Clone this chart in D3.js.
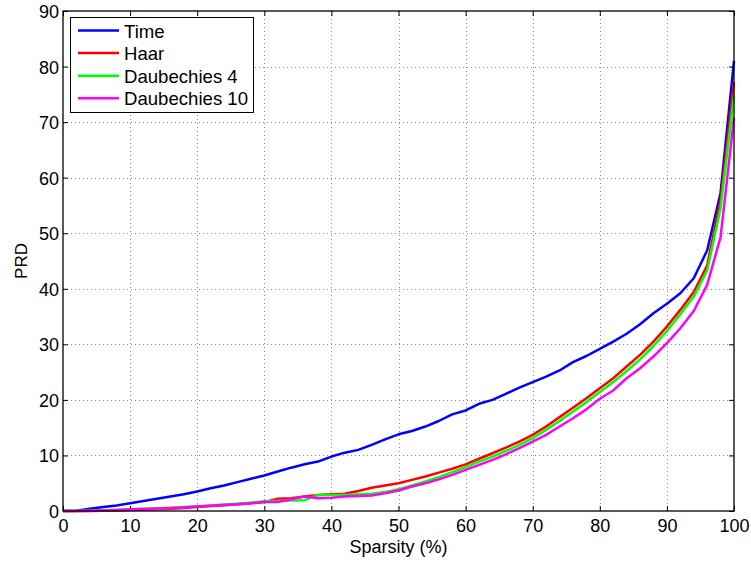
<!DOCTYPE html>
<html><head><meta charset="utf-8">
<script src="https://cdn.jsdelivr.net/npm/d3@7"></script>
<style>body{margin:0;background:#fff}text{font-family:"Liberation Sans",Arial,sans-serif}</style>
</head><body><svg id="c" width="751" height="561"></svg>
<script>
const sparsity = d3.range(0, 101, 2);
const timeVals = [0,0.05,0.4,0.7,1.0,1.4,1.8,2.2,2.6,3.0,3.5,4.1,4.6,5.2,5.8,6.4,7.1,7.8,8.4,8.9,9.8,10.5,11.0,11.9,12.9,13.8,14.4,15.2,16.2,17.4,18.1,19.3,20.0,21.1,22.2,23.2,24.2,25.3,26.8,27.9,29.2,30.5,31.9,33.6,35.6,37.3,39.2,41.9,46.9,57.3,81.0];
const haarVals = [0,0,0,0.05,0.1,0.2,0.25,0.3,0.4,0.55,0.7,0.9,1.05,1.2,1.4,1.6,2.2,2.3,2.6,2.9,3.0,3.1,3.6,4.2,4.6,5.0,5.6,6.2,6.9,7.6,8.4,9.4,10.4,11.4,12.5,13.7,15.2,16.9,18.6,20.3,22.1,23.9,26.0,28.1,30.5,33.2,36.2,39.4,44.2,56.0,77.2];
const db4Vals = [0,0,0.05,0.1,0.2,0.3,0.4,0.45,0.55,0.7,0.85,1.0,1.15,1.3,1.5,1.75,1.8,1.9,1.95,2.9,2.9,2.9,3.0,3.1,3.4,3.9,4.6,5.3,6.1,7.0,7.9,8.9,9.8,10.8,11.9,13.1,14.6,16.2,17.9,19.6,21.4,23.2,25.2,27.3,29.7,32.4,35.4,38.6,43.3,54.5,74.7];
const db10Vals = [0,0,0.05,0.1,0.2,0.3,0.35,0.45,0.55,0.65,0.8,0.95,1.1,1.2,1.4,1.6,1.6,2.1,2.6,2.3,2.4,2.6,2.7,2.8,3.2,3.7,4.4,5.0,5.7,6.5,7.4,8.3,9.2,10.2,11.3,12.5,13.7,15.2,16.7,18.3,20.2,21.7,23.9,25.7,27.8,30.2,32.9,36.0,40.7,49.3,70.8];
const seriesNames = ["Time","Haar","Daubechies 4","Daubechies 10"];
const seriesColors = ["#0000ff","#ff0000","#00ff00","#ff00ff"];
const seriesVals = [timeVals, haarVals, db4Vals, db10Vals];
const xTicks = d3.range(0, 101, 10);
const yTicks = d3.range(0, 91, 10);

const L = 63, R = 734, T = 11, B = 511;
const svg = d3.select("#c");
const x = d3.scaleLinear().domain([0,100]).range([L,R]);
const y = d3.scaleLinear().domain([0,90]).range([B,T]);
const FONT = "'Liberation Sans',Arial,sans-serif";

// grid
const grid = svg.append("g").attr("stroke","#888").attr("stroke-width",1).attr("stroke-dasharray","1,3");
xTicks.slice(1,-1).forEach(t=>grid.append("line").attr("x1",Math.round(x(t))+0.5).attr("x2",Math.round(x(t))+0.5).attr("y1",T).attr("y2",B));
yTicks.slice(1,-1).forEach(t=>grid.append("line").attr("y1",Math.round(y(t))+0.5).attr("y2",Math.round(y(t))+0.5).attr("x1",L).attr("x2",R));

// axes
const xb = svg.append("g").attr("transform",`translate(0,${B})`).call(d3.axisBottom(x).tickValues(xTicks).tickSizeInner(-5).tickSizeOuter(0));
const xt = svg.append("g").attr("transform",`translate(0,${T})`).call(d3.axisTop(x).tickValues(xTicks).tickSizeInner(-5).tickSizeOuter(0).tickFormat(""));
const yl = svg.append("g").attr("transform",`translate(${L},0)`).call(d3.axisLeft(y).tickValues(yTicks).tickSizeInner(-5).tickSizeOuter(0));
const yr = svg.append("g").attr("transform",`translate(${R},0)`).call(d3.axisRight(y).tickValues(yTicks).tickSizeInner(-5).tickSizeOuter(0).tickFormat(""));
[xb,xt,yl,yr].forEach(g=>{g.selectAll("path").remove();g.selectAll("line").attr("stroke","#000");g.selectAll("text").attr("font-size","18px").attr("fill","#000").style("font-family",FONT);});
xb.selectAll("text").attr("y",21).attr("dy","0");
yl.selectAll("text").attr("x",-4).attr("dy","0.36em");

// lines
const line = d3.line().x((d,i)=>x(sparsity[i])).y(d=>y(d));
seriesVals.forEach((vals,k)=>{
  svg.append("path").datum(vals).attr("d",line).attr("fill","none")
    .attr("stroke",seriesColors[k]).attr("stroke-width",2.5).attr("stroke-linejoin","round");
});

// frame
svg.append("rect").attr("x",L).attr("y",T).attr("width",R-L).attr("height",B-T).attr("fill","none").attr("stroke","#000").attr("stroke-width",1.3);

// labels
svg.append("text").attr("x",(L+R)/2).attr("y",553).attr("text-anchor","middle").attr("font-size","18px").text("Sparsity (%)");
svg.append("text").attr("transform",`translate(27,${(T+B)/2}) rotate(-90)`).attr("text-anchor","middle").attr("font-size","17px").text("PRD");

// legend
const lg = svg.append("g");
lg.append("rect").attr("x",70.5).attr("y",17.5).attr("width",183).attr("height",95).attr("fill","#fff").attr("stroke","#000").attr("stroke-width",1);
seriesNames.forEach((n,k)=>{
  const yy = 30.5 + k*22.6;
  lg.append("line").attr("x1",78).attr("x2",119).attr("y1",yy).attr("y2",yy).attr("stroke",seriesColors[k]).attr("stroke-width",2.5);
  lg.append("text").attr("x",124).attr("y",yy+7).attr("font-size","18.6px").text(n);
});
</script></body></html>
